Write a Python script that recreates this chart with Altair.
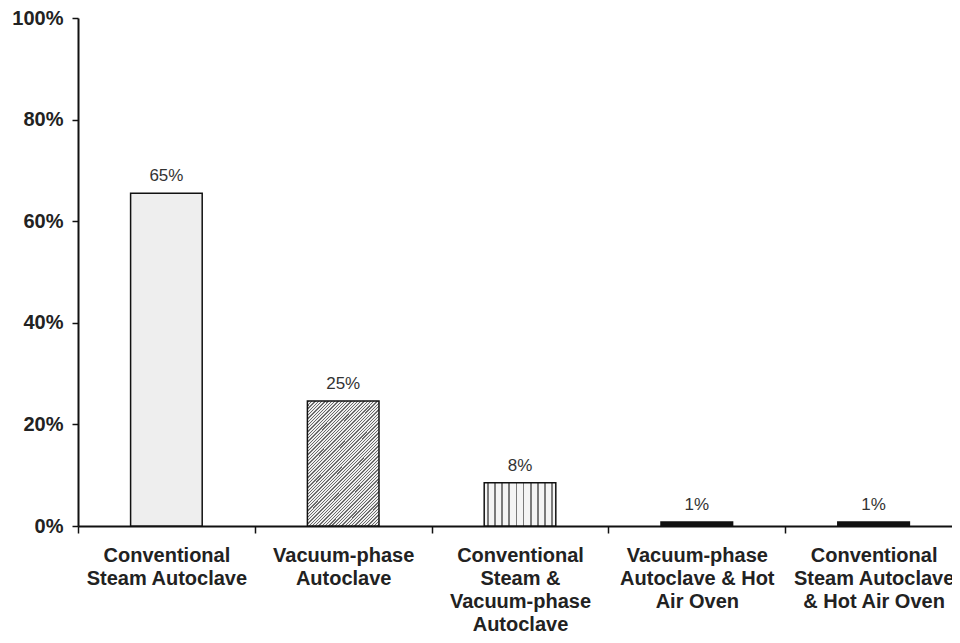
import altair as alt
import pandas as pd

categories = [
    "Conventional|Steam Autoclave",
    "Vacuum-phase|Autoclave",
    "Conventional|Steam &|Vacuum-phase|Autoclave",
    "Vacuum-phase|Autoclave & Hot|Air Oven",
    "Conventional|Steam Autoclave|& Hot Air Oven",
]
values = [65.5, 24.6, 8.5, 0.8, 0.8]
labels = ["65%", "25%", "8%", "1%", "1%"]

df = pd.DataFrame({"cat": categories, "val": [v / 100 for v in values], "lab": labels})

FONT = "Liberation Sans"


def stripes(n, width, color, bg="white", **coords):
    stops = []
    for i in range(n):
        a = i / n
        lo = a + (1 - width) / n / 2
        hi = a + (1 + width) / n / 2
        stops += [
            alt.GradientStop(offset=a, color=bg),
            alt.GradientStop(offset=lo, color=bg),
            alt.GradientStop(offset=lo, color=color),
            alt.GradientStop(offset=hi, color=color),
            alt.GradientStop(offset=hi, color=bg),
        ]
    stops.append(alt.GradientStop(offset=1, color=bg))
    return alt.Gradient(gradient="linear", stops=stops, **coords)


fills = [
    "#eeeeee",
    stripes(60, 0.4, "#6a6a6a", bg="#eeeeee", x1=0, y1=0, x2=0.682, y2=1.183),
    stripes(10, 0.22, "#7a7a7a", bg="#f4f4f4", x1=0, y1=0, x2=1, y2=0),
    "#111111",
    "#111111",
]

xenc = alt.X(
    "cat:N",
    sort=categories,
    scale=alt.Scale(domain=categories, paddingInner=0, paddingOuter=0, range=[0, 884]),
    axis=alt.Axis(
        title=None,
        labelExpr="split(datum.label, '|')",
        labelAngle=0,
        labelFont=FONT,
        labelFontSize=20,
        labelFontWeight="bold",
        labelColor="#222222",
        labelLineHeight=23,
        labelPadding=12,
        labelBaseline="top",
        tickBand="extent",
        tickSize=7,
        tickWidth=1.5,
        tickColor="#111111",
        domainColor="#111111",
        domainWidth=2,
        labelLimit=300,
    ),
)
yenc = alt.Y(
    "val:Q",
    scale=alt.Scale(domain=[0, 1]),
    axis=alt.Axis(
        title=None,
        values=[0, 0.2, 0.4, 0.6, 0.8, 1.0],
        format=".0%",
        labelFont=FONT,
        labelFontSize=20,
        labelFontWeight="bold",
        labelColor="#222222",
        labelPadding=9,
        tickSize=6,
        tickWidth=1.5,
        tickColor="#111111",
        domainColor="#111111",
        domainWidth=2,
        grid=False,
    ),
)

layers = []
for cat, fill in zip(categories, fills):
    layers.append(
        alt.Chart(df)
        .transform_filter(alt.datum.cat == cat)
        .mark_bar(fill=fill, stroke="#111111", strokeWidth=1.5,
                  width=alt.RelativeBandSize(0.405))
        .encode(x=xenc, y=yenc)
    )

text = (
    alt.Chart(df)
    .mark_text(font=FONT, fontSize=17, color="#333333", baseline="bottom", dy=-8)
    .encode(x=xenc, y=yenc, text="lab:N")
)

chart = (
    alt.layer(*layers, text)
    .properties(
        width=874,
        height=508,
        padding={"left": 70, "top": 10, "right": 0, "bottom": 112},
        autosize=alt.AutoSizeParams(type="none"),
    )
    .configure_view(stroke=None)
)

chart.save("out.html", embed_options={"renderer": "svg", "actions": False})
